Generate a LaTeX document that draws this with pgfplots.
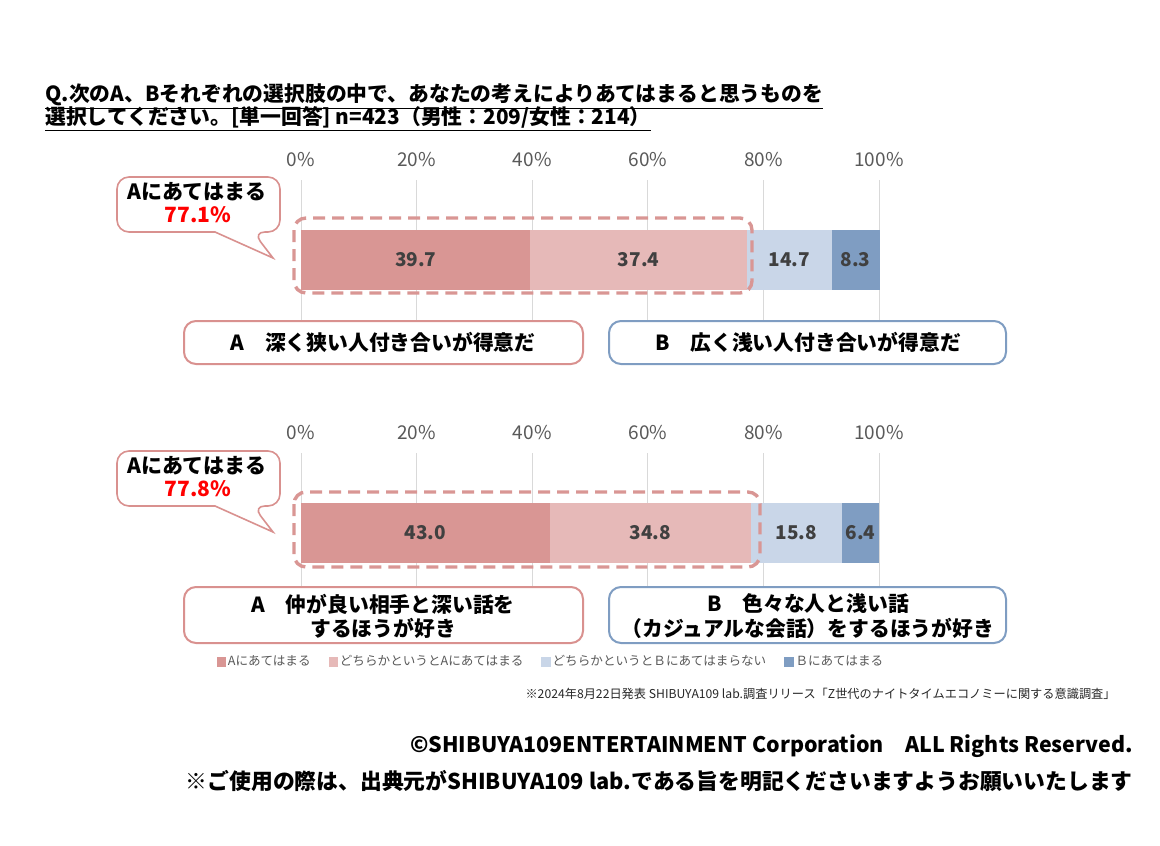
\documentclass[border=0pt]{standalone}
\usepackage{pgfplots}
\pgfplotsset{compat=1.18}
\usepackage{fontspec}
\setmainfont{Noto Sans CJK JP}

\definecolor{aa}{HTML}{D99694}
\definecolor{ab}{HTML}{E6B9B8}
\definecolor{ba}{HTML}{C9D6E8}
\definecolor{bb}{HTML}{7F9DC2}
\definecolor{txt}{HTML}{404040}
\definecolor{tickc}{HTML}{595959}
\definecolor{gridc}{HTML}{D9D9D9}
\definecolor{boxa}{HTML}{D9918F}
\definecolor{boxb}{HTML}{7F9DC2}

\newcommand{\fs}[1]{\fontsize{#1}{#1}\selectfont}

\pgfplotsset{
  band/.style={
    width=289pt, scale only axis, xmin=0, xmax=100, ymin=0,
    xbar stacked, bar width=60,
    axis line style={draw=none}, ytick=\empty,
    xtick={0,20,...,100}, xticklabels={0\%,20\%,40\%,60\%,80\%,100\%},
    xticklabel pos=upper, major tick length=0pt,
    xmajorgrids, major grid style={gridc, line width=0.5pt},
    tick label style={font=\fs{9.5}, text=tickc},
    xticklabel style={anchor=center, yshift=10pt},
    clip=false,
  },
  vals/.style={
    width=289pt, scale only axis, xmin=0, xmax=100, ymin=0,
    hide axis, clip=false,
  },
  barlbl/.style={
    draw=none, mark=none, nodes near coords={\pgfplotspointmeta},
    point meta=explicit symbolic,
    every node near coord/.append style={anchor=center, font=\fs{9.5}\bfseries, text=txt},
  },
}

\begin{document}
\begin{tikzpicture}
\useasboundingbox (0pt,0pt) rectangle (580pt,-422.5pt);

% ---- chart 1 ----
\begin{axis}[band, at={(150.5pt,-161pt)}, anchor=south west, height=71pt, ymax=142]
\addplot[fill=aa, draw=none] coordinates {(39.7,62)};
\addplot[fill=ab, draw=none] coordinates {(37.4,62)};
\addplot[fill=ba, draw=none] coordinates {(14.7,62)};
\addplot[fill=bb, draw=none] coordinates {(8.3,62)};
\end{axis}
\begin{axis}[vals, at={(150.5pt,-161pt)}, anchor=south west, height=71pt, ymax=142]
\addplot[barlbl] coordinates {(19.85,62)[39.7] (58.4,62)[37.4] (84.45,62)[14.7] (95.95,62)[8.3]};
\end{axis}

% ---- chart 2 ----
\begin{axis}[band, at={(150.5pt,-294.5pt)}, anchor=south west, height=68pt, ymax=136,
  legend columns=4,
  legend style={at={(0.4325,-0.537)}, anchor=center, draw=none, fill=none,
    font=\fs{6.3}, text=tickc, inner sep=0pt,
    /tikz/every even column/.append style={column sep=8pt},
    nodes={inner sep=1pt}},
  legend image code/.code={\fill[#1] (0pt,-2.3pt) rectangle (4.6pt,2.3pt);},
  ]
\addplot[fill=aa, draw=none] coordinates {(43.0,56)};
\addplot[fill=ab, draw=none] coordinates {(34.8,56)};
\addplot[fill=ba, draw=none] coordinates {(15.8,56)};
\addplot[fill=bb, draw=none] coordinates {(6.4,56)};
\legend{Aにあてはまる, どちらかというとAにあてはまる, どちらかというとＢにあてはまらない, Ｂにあてはまる}
\end{axis}
\begin{axis}[vals, at={(150.5pt,-294.5pt)}, anchor=south west, height=68pt, ymax=136]
\addplot[barlbl] coordinates {(21.5,56)[43.0] (60.4,56)[34.8] (85.7,56)[15.8] (96.8,56)[6.4]};
\end{axis}

\begin{scope}[x=0.5pt, y=-0.5pt]
% title
\node[anchor=west, inner sep=0pt, font=\fs{10.4}\bfseries] at (45,97)
  {\underline{Q.次のA、Bそれぞれの選択肢の中で、あなたの考えによりあてはまると思うものを}};
\node[anchor=west, inner sep=0pt, font=\fs{10.4}\bfseries] at (45,119)
  {\underline{選択してください。[単一回答] n=423（男性：209/女性：214）}};

% dashed frames
\draw[aa, line width=1.7pt, dash pattern=on 6pt off 3.5pt, rounded corners=6pt]
  (294,218) rectangle (752,293);
\draw[aa, line width=1.7pt, dash pattern=on 6pt off 3.5pt, rounded corners=6pt]
  (294,492) rectangle (760,567);

% callouts
\foreach \dy/\pct in {0/77.1, 274/77.8}{
  \begin{scope}[yshift=-0.5pt*\dy]
  \draw[boxa, line width=0.8pt, fill=white] (117,205) [rounded corners=6pt] -- (117,177) -- (280,177)
    -- (280,232) -- (253,232) [sharp corners] -- (273,258) -- (215,232) [rounded corners=6pt]
    -- (117,232) -- cycle;
  \node[font=\fs{10.5}\bfseries] at (197,192) {Aにあてはまる};
  \node[font=\fs{10.5}\bfseries, text=red] at (198,215) {\pct\%};
  \end{scope}
}

% statement boxes
\draw[boxa, line width=1pt, fill=white, rounded corners=6pt] (184,321) rectangle (583,364);
\draw[boxb, line width=1pt, fill=white, rounded corners=6pt] (609,321) rectangle (1006,364);
\node[font=\fs{10.4}\bfseries] at (383,342) {A　深く狭い人付き合いが得意だ};
\node[font=\fs{10.4}\bfseries] at (808,342) {B　広く浅い人付き合いが得意だ};

\draw[boxa, line width=1pt, fill=white, rounded corners=6pt] (184,587) rectangle (583,643);
\draw[boxb, line width=1pt, fill=white, rounded corners=6pt] (609,587) rectangle (1006,643);
\node[font=\fs{10.4}\bfseries] at (383,604) {A　仲が良い相手と深い話を};
\node[font=\fs{10.4}\bfseries] at (383,628) {するほうが好き};
\node[font=\fs{10.4}\bfseries] at (808,604) {B　色々な人と浅い話};
\node[font=\fs{10.4}\bfseries] at (808,628) {（カジュアルな会話）をするほうが好き};

% footnotes
\node[anchor=east, inner sep=0pt, font=\fs{6.1}, text=black!85] at (1116,694)
  {※2024年8月22日発表 SHIBUYA109 lab.調査リリース「Z世代のナイトタイムエコノミーに関する意識調査」};
\node[anchor=east, inner sep=0pt, font=\fs{10.7}\bfseries] at (1133,746)
  {©SHIBUYA109ENTERTAINMENT Corporation　ALL Rights Reserved.};
\node[anchor=east, inner sep=0pt, font=\fs{10.9}\bfseries] at (1133,781)
  {※ご使用の際は、出典元がSHIBUYA109 lab.である旨を明記くださいますようお願いいたします};
\end{scope}
\end{tikzpicture}
\end{document}
